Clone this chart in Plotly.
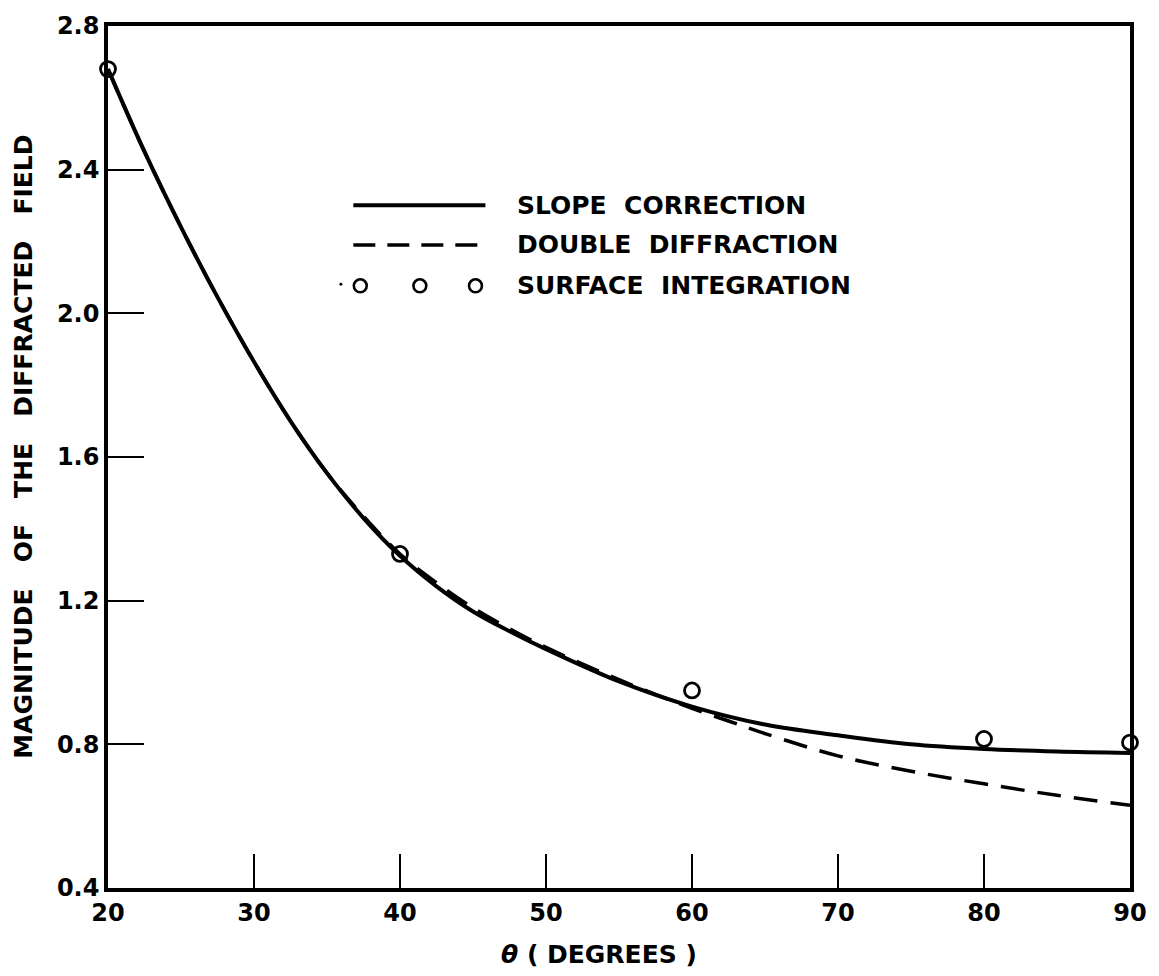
import plotly.graph_objects as go

# ---- data ----
theta_slope = [20, 22.5, 25, 27.5, 30, 32.5, 35, 37.5, 40, 42.5, 45, 47.5, 50, 55, 60, 65, 70, 75, 80, 85, 90]
mag_slope = [2.68, 2.45, 2.24, 2.045, 1.865, 1.70, 1.555, 1.43, 1.325, 1.24, 1.17, 1.115, 1.065, 0.975, 0.905, 0.855, 0.825, 0.80, 0.787, 0.78, 0.776]

theta_double = [20, 22.5, 25, 27.5, 30, 32.5, 35, 37.5, 40, 42.5, 45, 47.5, 50, 55, 60, 62.5, 65, 70, 75, 80, 85, 90]
mag_double = [2.68, 2.45, 2.24, 2.045, 1.865, 1.70, 1.555, 1.435, 1.33, 1.25, 1.18, 1.122, 1.07, 0.98, 0.90, 0.865, 0.83, 0.768, 0.725, 0.69, 0.658, 0.63]

theta_surface = [20, 40, 60, 80, 90]
mag_surface = [2.68, 1.33, 0.95, 0.815, 0.805]

x_ticks = [20, 30, 40, 50, 60, 70, 80, 90]
y_ticks = [0.4, 0.8, 1.2, 1.6, 2.0, 2.4, 2.8]
y_tick_labels = ["0.4", "0.8", "1.2", "1.6", "2.0", "2.4", "2.8"]

legend_labels = ["SLOPE  CORRECTION", "DOUBLE  DIFFRACTION", "SURFACE  INTEGRATION"]

FONT = "DejaVu Sans"

fig = go.Figure()
fig.add_trace(go.Scatter(x=theta_slope, y=mag_slope, mode="lines",
                         line=dict(color="black", width=4, shape="spline", smoothing=1), showlegend=False))
fig.add_trace(go.Scatter(x=theta_double, y=mag_double, mode="lines",
                         line=dict(color="black", width=3.5, dash="24px,13px", shape="spline", smoothing=1), showlegend=False))
fig.add_trace(go.Scatter(x=theta_surface, y=mag_surface, mode="markers", cliponaxis=False,
                         marker=dict(symbol="circle-open", size=15, color="black", line=dict(width=2.8, color="black")),
                         showlegend=False))

W, H = 1159, 976
L, R, T, B = 108, 22, 22, 88
pw, ph = W - L - R, H - T - B

def px(xp):
    return (xp - L) / pw

def py(yp):
    return 1 - (yp - T) / ph

shapes = []
# legend samples
shapes.append(dict(type="line", xref="paper", yref="paper", x0=px(355), x1=px(488), y0=py(202), y1=py(202),
                   line=dict(color="black", width=4)))
shapes.append(dict(type="line", xref="paper", yref="paper", x0=px(355), x1=px(488), y0=py(242), y1=py(242),
                   line=dict(color="black", width=3.5, dash="22px,12px")))
for cx in [362, 422, 478]:
    shapes.append(dict(type="circle", xref="paper", yref="paper", x0=px(cx - 6.5), x1=px(cx + 6.5),
                       y0=py(283 - 6.5), y1=py(283 + 6.5), line=dict(color="black", width=2.6)))
shapes.append(dict(type="circle", xref="paper", yref="paper", x0=px(341), x1=px(344), y0=py(280), y1=py(283),
                   fillcolor="black", line=dict(color="black", width=0)))

annotations = []
for lab, yy in zip(legend_labels, [202, 242, 283]):
    annotations.append(dict(text=lab, xref="paper", yref="paper", x=px(518), y=py(yy), xanchor="left", yanchor="middle",
                            showarrow=False, font=dict(family=FONT, size=25, color="black", weight="bold")))

annotations.append(dict(text="MAGNITUDE   OF   THE   DIFFRACTED   FIELD", xref="paper", yref="paper", x=px(22), y=py(445),
                        xanchor="center", yanchor="middle", textangle=-90, showarrow=False,
                        font=dict(family=FONT, size=25, color="black", weight="bold")))
annotations.append(dict(text="<i>θ</i> ( DEGREES )", xref="paper", yref="paper", x=px(602), y=py(955),
                        xanchor="center", yanchor="middle", showarrow=False,
                        font=dict(family=FONT, size=25, color="black", weight="bold")))

fig.update_layout(
    width=W, height=H,
    margin=dict(l=L, r=R, t=T, b=B),
    paper_bgcolor="white", plot_bgcolor="white",
    shapes=shapes, annotations=annotations,
    font=dict(family=FONT, color="black"),
)
fig.update_xaxes(range=[20, 90], tickvals=x_ticks, ticks="inside", ticklen=34, tickwidth=2, tickcolor="black",
                 showline=True, linewidth=3.5, linecolor="black", mirror=True, showgrid=False, zeroline=False,
                 tickfont=dict(family=FONT, size=24, color="black", weight="bold"))
fig.update_yaxes(range=[0.4, 2.8], tickvals=y_ticks, ticktext=y_tick_labels, ticks="inside", ticklen=36, tickwidth=2,
                 tickcolor="black",
                 showline=True, linewidth=3.5, linecolor="black", mirror=True, showgrid=False, zeroline=False,
                 tickfont=dict(family=FONT, size=24, color="black", weight="bold"))

fig.write_html("out.html")
